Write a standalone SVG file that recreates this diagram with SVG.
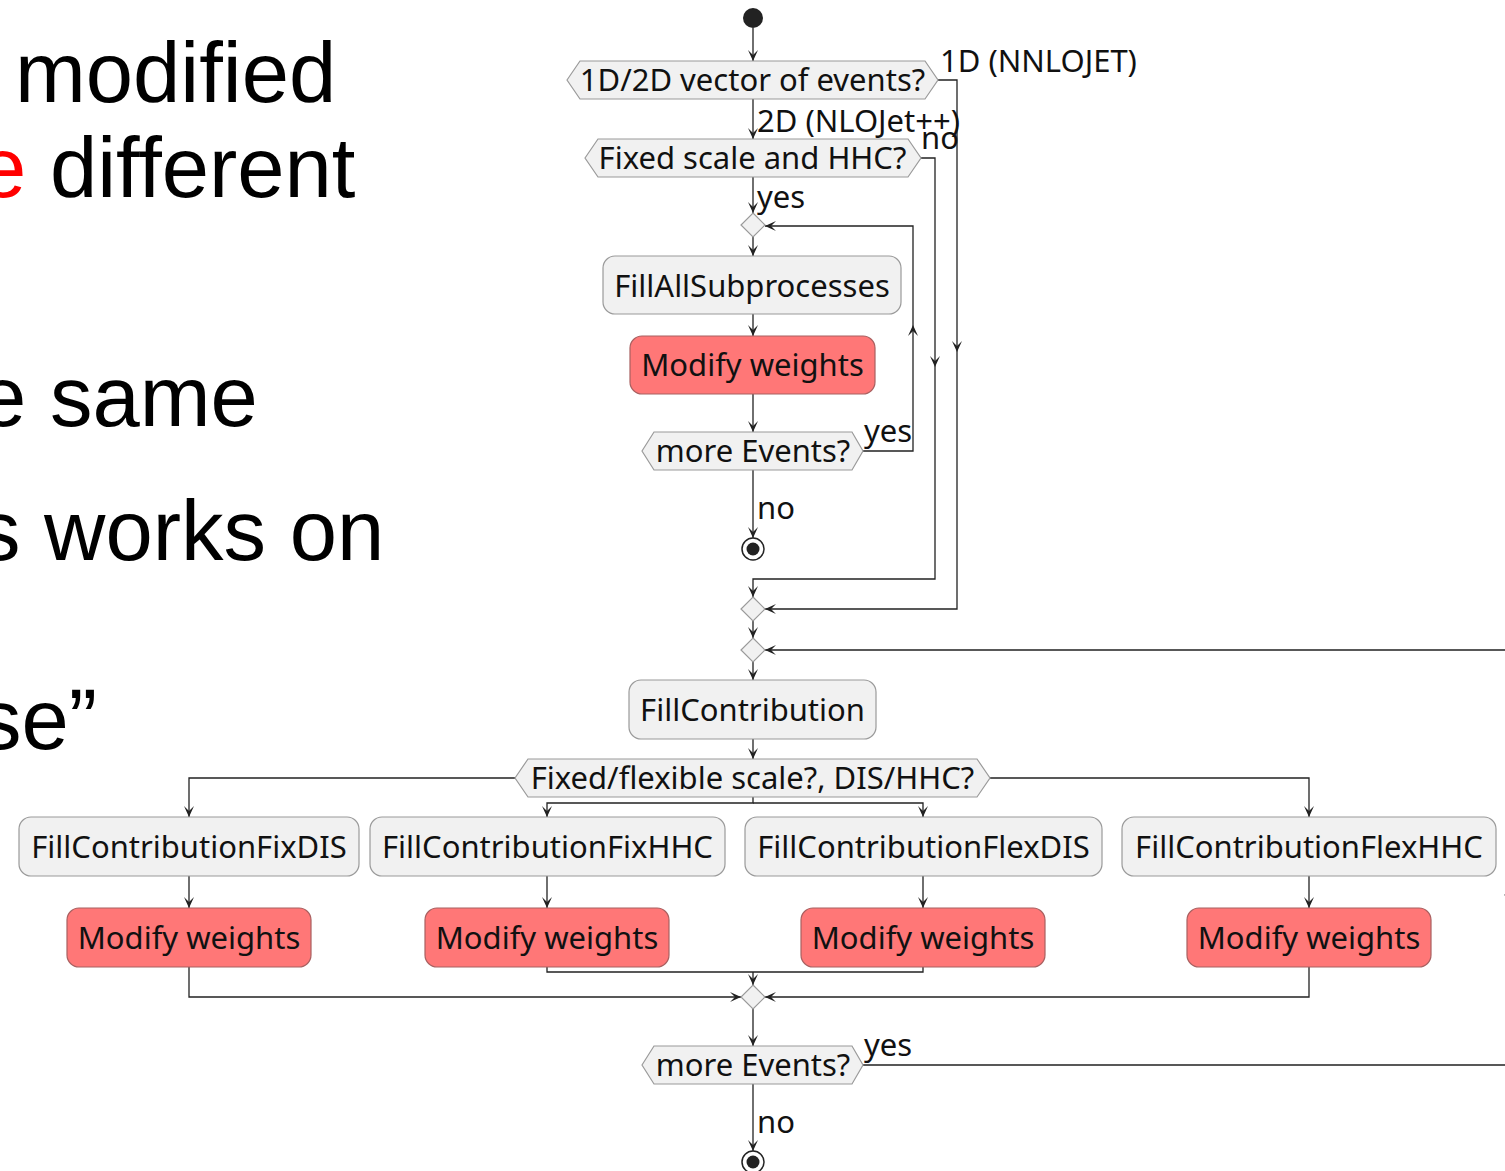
<svg xmlns="http://www.w3.org/2000/svg" width="1505" height="1171" viewBox="0 0 1505 1171">
  <style>
    .slide { font-family: "Liberation Sans", Arial, sans-serif; font-size: 85px; fill: #000; }
    .red { fill: #FF0000; }
    .node { fill: #F1F1F1; stroke: #9A9A9A; stroke-width: 1.2; }
    .hot { fill: #FF7777; stroke: #A86060; stroke-width: 1.2; }
    .lbl { font-family: "Noto Sans", "Open Sans", sans-serif; font-size: 31px; fill: #111; }
    .mid { text-anchor: middle; }
    .edge { fill: none; stroke: #222; stroke-width: 1.3; }
    .arr { marker-end: url(#ah); }
  </style>
  <defs>
    <marker id="ah" viewBox="-12 -6 13 12" markerWidth="13" markerHeight="12" refX="0" refY="0" orient="auto" markerUnits="userSpaceOnUse">
      <path d="M0,0 L-11,-5 L-6,0 L-11,5 Z" fill="#222"/>
    </marker>
  </defs>

  <rect x="0" y="0" width="1505" height="1171" fill="#FFFFFF"/>

  <!-- slide text on the left, cut by the frame -->
  <g id="slide-text">
    <text class="slide" x="15" y="102">modified</text>
    <text class="slide" x="-21" y="197"><tspan class="red">e</tspan> different</text>
    <text class="slide" x="-21" y="426">e same</text>
    <text class="slide" x="-22" y="560">s works on</text>
    <text class="slide" x="-21" y="749">se”</text>
  </g>

  <!-- connectors -->
  <g id="connectors">
    <path class="edge arr" d="M753,28 V61"/>
    <path class="edge arr" d="M753,99 V139"/>
    <path class="edge arr" d="M938,80 H957 V352"/>
    <path class="edge arr" d="M957,352 V609 H765"/>
    <path class="edge arr" d="M753,177 V213"/>
    <path class="edge arr" d="M921,158 H935 V367"/>
    <path class="edge arr" d="M935,367 V579 H753 V597"/>
    <path class="edge arr" d="M753,237 V256"/>
    <path class="edge arr" d="M753,314 V336"/>
    <path class="edge arr" d="M753,394 V432"/>
    <path class="edge arr" d="M863,451 H913 V325"/>
    <path class="edge arr" d="M913,325 V226 H765"/>
    <path class="edge arr" d="M753,470 V538"/>
    <path class="edge arr" d="M753,621 V638"/>
    <path class="edge arr" d="M753,662 V680"/>
    <path class="edge arr" d="M753,739 V759"/>
    <path class="edge arr" d="M515,778 H189 V817"/>
    <path class="edge arr" d="M990,778 H1309 V817"/>
    <path class="edge arr" d="M753,797 V803 H547 V817"/>
    <path class="edge arr" d="M753,803 H923 V817"/>
    <path class="edge arr" d="M189,876 V908"/>
    <path class="edge arr" d="M547,876 V908"/>
    <path class="edge arr" d="M923,876 V908"/>
    <path class="edge arr" d="M1309,876 V908"/>
    <path class="edge" d="M547,967 V972 H923 V967"/>
    <path class="edge arr" d="M753,972 V985"/>
    <path class="edge arr" d="M189,967 V997 H741"/>
    <path class="edge arr" d="M1309,967 V997 H765"/>
    <path class="edge arr" d="M753,1009 V1046"/>
    <path class="edge arr" d="M863,1065 H1509 V885"/>
    <path class="edge arr" d="M1509,885 V650 H765"/>
    <path class="edge arr" d="M753,1084 V1151"/>

    <!-- branch labels -->
    <text class="lbl" x="940" y="72">1D (NNLOJET)</text>
    <text class="lbl" x="757" y="132">2D (NLOJet++)</text>
    <text class="lbl" x="921" y="149">no</text>
    <text class="lbl" x="757" y="208">yes</text>
    <text class="lbl" x="864" y="442">yes</text>
    <text class="lbl" x="757" y="519">no</text>
    <text class="lbl" x="864" y="1056">yes</text>
    <text class="lbl" x="757" y="1133">no</text>
  </g>

  <!-- nodes -->
  <g id="start"><circle cx="753" cy="18" r="10" fill="#222"/></g>

  <g id="q-vector">
    <polygon class="node" points="567,80 580,61 925,61 938,80 925,99 580,99"/>
    <text class="lbl mid" x="752.5" y="91">1D/2D vector of events?</text>
  </g>

  <g id="q-fixed-hhc">
    <polygon class="node" points="585,158 598,139 908,139 921,158 908,177 598,177"/>
    <text class="lbl mid" x="752.5" y="169">Fixed scale and HHC?</text>
  </g>

  <g id="merge-loop"><polygon class="node" points="753,213 765,225 753,237 741,225"/></g>

  <g id="fill-all">
    <rect class="node" x="603" y="256" width="298" height="58" rx="12"/>
    <text class="lbl mid" x="752" y="297">FillAllSubprocesses</text>
  </g>

  <g id="modify-1">
    <rect class="hot" x="630" y="336" width="245" height="58" rx="12"/>
    <text class="lbl mid" x="752.5" y="376">Modify weights</text>
  </g>

  <g id="q-more-1">
    <polygon class="node" points="642,451 654,432 852,432 863,451 852,470 654,470"/>
    <text class="lbl mid" x="753" y="462">more Events?</text>
  </g>

  <g id="end-1">
    <circle cx="753" cy="549" r="11" fill="#FFFFFF" stroke="#222" stroke-width="1.5"/>
    <circle cx="753" cy="549" r="6.5" fill="#222"/>
  </g>

  <g id="merge-a"><polygon class="node" points="753,597 765,609 753,621 741,609"/></g>
  <g id="merge-b"><polygon class="node" points="753,638 765,650 753,662 741,650"/></g>

  <g id="fill-contribution">
    <rect class="node" x="629" y="680" width="247" height="59" rx="12"/>
    <text class="lbl mid" x="752.5" y="721">FillContribution</text>
  </g>

  <g id="q-scale-type">
    <polygon class="node" points="515,778 528,759 977,759 990,778 977,797 528,797"/>
    <text class="lbl mid" x="752.5" y="789">Fixed/flexible scale?, DIS/HHC?</text>
  </g>

  <g id="fill-fix-dis">
    <rect class="node" x="19" y="817" width="340" height="59" rx="12"/>
    <text class="lbl mid" x="189" y="858">FillContributionFixDIS</text>
  </g>
  <g id="fill-fix-hhc">
    <rect class="node" x="370" y="817" width="355" height="59" rx="12"/>
    <text class="lbl mid" x="547.5" y="858">FillContributionFixHHC</text>
  </g>
  <g id="fill-flex-dis">
    <rect class="node" x="745" y="817" width="357" height="59" rx="12"/>
    <text class="lbl mid" x="923.5" y="858">FillContributionFlexDIS</text>
  </g>
  <g id="fill-flex-hhc">
    <rect class="node" x="1122" y="817" width="374" height="59" rx="12"/>
    <text class="lbl mid" x="1309" y="858">FillContributionFlexHHC</text>
  </g>

  <g id="modify-fix-dis">
    <rect class="hot" x="67" y="908" width="244" height="59" rx="12"/>
    <text class="lbl mid" x="189" y="949">Modify weights</text>
  </g>
  <g id="modify-fix-hhc">
    <rect class="hot" x="425" y="908" width="244" height="59" rx="12"/>
    <text class="lbl mid" x="547" y="949">Modify weights</text>
  </g>
  <g id="modify-flex-dis">
    <rect class="hot" x="801" y="908" width="244" height="59" rx="12"/>
    <text class="lbl mid" x="923" y="949">Modify weights</text>
  </g>
  <g id="modify-flex-hhc">
    <rect class="hot" x="1187" y="908" width="244" height="59" rx="12"/>
    <text class="lbl mid" x="1309" y="949">Modify weights</text>
  </g>

  <g id="merge-c"><polygon class="node" points="753,985 765,997 753,1009 741,997"/></g>

  <g id="q-more-2">
    <polygon class="node" points="642,1065 654,1046 852,1046 863,1065 852,1084 654,1084"/>
    <text class="lbl mid" x="753" y="1076">more Events?</text>
  </g>

  <g id="end-2">
    <circle cx="753" cy="1162" r="11" fill="#FFFFFF" stroke="#222" stroke-width="1.5"/>
    <circle cx="753" cy="1162" r="6.5" fill="#222"/>
  </g>
</svg>
